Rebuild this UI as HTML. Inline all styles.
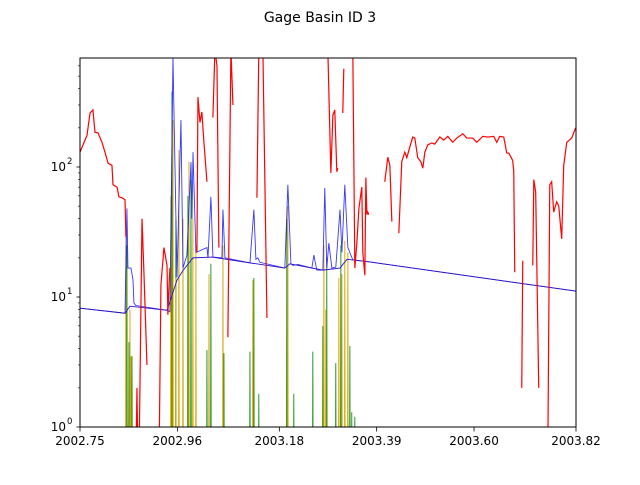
<!DOCTYPE html>
<html><head><meta charset="utf-8"><style>
body{margin:0;background:#fff;font-family:"Liberation Sans","DejaVu Sans",sans-serif}
svg text{font-family:"DejaVu Sans","Liberation Sans",sans-serif}
</style></head><body>
<svg id="c" width="640" height="480" xmlns="http://www.w3.org/2000/svg">
<defs><clipPath id="cp"><rect x="80" y="58" width="496" height="369"/></clipPath></defs>
<rect width="640" height="480" fill="#fff"/>
<text x="320" y="22" text-anchor="middle" font-size="14">Gage Basin ID 3</text>
<g id="plot" clip-path="url(#cp)"></g>
<rect x="80" y="58" width="496" height="369" fill="none" stroke="#000" stroke-width="1"/>
<g id="axes"></g>
</svg>
<script>
const xTicks=[2002.75,2002.96,2003.18,2003.39,2003.60,2003.82];
const xTickLabels=["2002.75","2002.96","2003.18","2003.39","2003.60","2003.82"];
const yTicks=[1,10,100];
const yTickLabels=["0","1","2"];
// red series: days since start, null = gap
const redDays=[0,2.4,5.5,7.9,10.2,11.8,14.2,17.3,19.7,22.1,25.2,26,29.2,30.7,33.1,35.5,36.2,null,
44.1,44.9,45.7,46.5,48.9,50.4,52.8,null,62.3,63.8,66.2,68.6,69.3,70.1,70.9,null,
92.2,93,94.6,96.1,97.7,100.1,null,104.8,106.4,108,109.5,null,116.6,119,120.6,null,
139.5,141,144.2,147.4,null,195.4,197.8,199.4,200.9,202.5,203.3,null,207.2,208,null,
215.1,216.7,218.3,219.9,222.2,223,224.6,225.4,226.2,226.9,227.7,null,240.3,242.7,244.3,245.9,null,
251.4,253.7,256.1,257.7,260,262.4,264,266.3,268.7,270.3,271.9,274.2,277.4,279.7,283.7,286.8,290,293.9,297.1,301.8,305,309.7,312.8,317.6,321.5,326.2,328.6,331,334.1,336.5,338.1,341.2,342,342.8,null,
348.3,349.1,null,357,357.8,359.3,361.7,null,368.8,370.4,371.9,373.5,375.9,377.5,379.8,381.4,383.8,387.7,390.8];
const redVals=[130,148,175,260,275,185,183,155,130,107,103,73,70,59,58,56,29,null,
0.5,2.0,0.5,0.5,40,15.5,3,null,0.5,12.4,24,17.5,7.3,11.7,16.7,null,
22,345,220,265,155,77,null,240,800,600,24,null,4.9,800,300,null,
58,800,800,6.9,null,800,90,250,275,92,98,null,260,570,null,
800,16.7,26,48,70,22,14.7,83,43,45,43,null,77,119,103,38,null,
31,110,130,118,142,170,167,118,110,98,130,148,153,150,170,161,172,155,167,180,167,167,155,172,170,172,155,172,170,128,128,112,92,15.5,null,
2.0,19,null,17.5,80,64,2,null,0.5,73,77,45,54,50,28,103,155,167,200];
const blueDays=[0,35.5,37,37.8,40.2,41.8,42.5,44,68.6,70.9,73.3,76.5,79.6,81.2,84.3,87.5,88.3,89.1,91.4,100.1,100.9,103.2,104.8,111.9,112.7,114.3,134,137.1,138.7,140.2,141.8,161.5,163.9,166.3,167.9,171.8,182.8,184.4,186.7,191.5,193,194.6,196.2,198.6,201.7,205,206.5,208.8,211.2,213.6,215.1,228.5,390.8];
const blueVals=[8.2,7.5,48,16.7,16.7,13.5,9,8.6,7.9,7.7,700,14.2,230,16.7,21,109,40,130,22,24,20,59,20.3,20,47,20,18.3,47,19.5,20,18.5,16.7,73,18,17.5,17.8,16.7,21,16.1,16.1,69,16.7,26,16.7,17,47,22,73,24,21,19.3,18.6,11.1];
const navyDays=[0,35.5,39.4,68.6,76.5,81.2,89.1,104,134,161.5,165.5,191.5,205,210.5,216.7,228.5,390.8];
const navyVals=[8.2,7.5,8.5,7.9,13.5,16,20,20.3,18.3,16.7,18,16.1,16.7,19.5,19.2,18.6,11.1];
const goldDays=[36.2,39.4,40.2,71.7,73.3,75.6,78,81.2,85.9,89,91.4,101.7,112.7,136.3,163.9,192.3,193.8,204.1,206.5,208.8,211.2];
const goldPeaks=[33,8,3.5,60,230,14,135,40,110,40,25,15,25,13.5,50,25,8,14,15,27,22];
const greenDays=[37,38.6,41,72.5,75.6,85.1,87.5,100.1,103.2,113.5,134,137.1,141,163.1,168.6,183.6,191.5,194.6,201.7,205.7,212.8,214.3,216.7];
const greenPeaks=[25,4.5,3.5,380,40,60,80,3.9,18,3.7,3.8,14,1.8,40,1.8,3.8,6,20,3.1,25,4.2,1.3,1.2];

const X0=80,X1=576,Y0=427,DEC=130,T0=2002.75,T1=2003.82;
const yearOf=d=>T0+d/365.5;
const sx=t=>X0+(t-T0)/(T1-T0)*(X1-X0);
const sy=v=>Y0-Math.log10(v)*DEC;
const NS="http://www.w3.org/2000/svg";
const plot=document.getElementById('plot'),axes=document.getElementById('axes');
function mk(tag,attrs,parent){const e=document.createElementNS(NS,tag);for(const k in attrs)e.setAttribute(k,attrs[k]);parent.appendChild(e);return e;}
function linePath(days,vals){let d='',pen=false;for(let i=0;i<days.length;i++){if(days[i]===null||vals[i]===null){pen=false;continue;}
 d+=(pen?'L':'M')+sx(yearOf(days[i])).toFixed(2)+' '+sy(vals[i]).toFixed(2)+' ';pen=true;}return d;}
function spikePath(days,peaks){let d='';for(let i=0;i<days.length;i++){const t=yearOf(days[i]);
 d+='M'+sx(t-0.0007).toFixed(2)+' '+sy(0.3).toFixed(2)+' L'+sx(t).toFixed(2)+' '+sy(peaks[i]).toFixed(2)+' L'+sx(t+0.0007).toFixed(2)+' '+sy(0.3).toFixed(2)+' ';}return d;}
let p;
p=mk('path',{d:spikePath(greenDays,greenPeaks),fill:'none',stroke:'#008000','stroke-width':0.8},plot);


p=mk('path',{d:spikePath(goldDays,goldPeaks),fill:'none',stroke:'#d4a400','stroke-width':0.9},plot);


p=mk('path',{d:linePath(blueDays,blueVals),fill:'none',stroke:'#1515ff','stroke-width':0.9,'stroke-opacity':0.85},plot);


p=mk('path',{d:linePath(navyDays,navyVals),fill:'none',stroke:'#2a10c8','stroke-width':0.9},plot);


p=mk('path',{d:linePath(redDays,redVals),fill:'none',stroke:'#ff0000','stroke-width':1.2},plot);



xTicks.forEach((t,i)=>{const x=sx(t);
 mk('line',{x1:x,x2:x,y1:427,y2:431.5,stroke:'#000','stroke-width':0.8},axes);
 const tx=mk('text',{x:x,y:445,'font-size':12,'text-anchor':'middle'},axes);tx.textContent=xTickLabels[i];
 
 
});
yTicks.forEach((v,i)=>{const y=sy(v);
 mk('line',{x1:76.5,x2:80,y1:y,y2:y,stroke:'#000','stroke-width':0.8},axes);
 const tx=mk('text',{x:66,y:y+4,'font-size':12,'text-anchor':'end'},axes);tx.textContent='10';
 
 
 const sp=mk('text',{x:67,y:y-3,'font-size':8.5,'text-anchor':'start'},axes);sp.textContent=yTickLabels[i];
 
 
});
for(let e=0;e<3;e++)for(let m=2;m<10;m++){const v=m*Math.pow(10,e);if(v>690)continue;const y=sy(v);
 mk('line',{x1:78,x2:80,y1:y,y2:y,stroke:'#000','stroke-width':0.6},axes);}
</script>
</body></html>
